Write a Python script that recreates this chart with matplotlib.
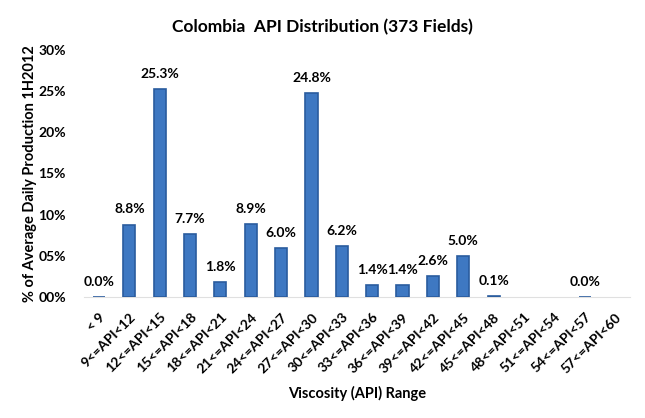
import numpy as np
import matplotlib
matplotlib.use("Agg")
import matplotlib.pyplot as plt

categories = ["< 9", "9<=API<12", "12<=API<15", "15<=API<18", "18<=API<21",
              "21<=API<24", "24<=API<27", "27<=API<30", "30<=API<33", "33<=API<36",
              "36<=API<39", "39<=API<42", "42<=API<45", "45<=API<48", "48<=API<51",
              "51<=API<54", "54<=API<57", "57<=API<60"]
values = [0.0, 8.8, 25.3, 7.7, 1.8, 8.9, 6.0, 24.8, 6.2, 1.4, 1.4, 2.6, 5.0, 0.1,
          np.nan, np.nan, 0.0, np.nan]
yticks = [0, 5, 10, 15, 20, 25, 30]
ytick_labels = ["00%", "05%", "10%", "15%", "20%", "25%", "30%"]

plt.rcParams['font.family'] = ['Lato', 'DejaVu Sans']

fig = plt.figure(figsize=(6.45, 4.18), dpi=100)
ax = fig.add_axes([0.130, 0.2895, 0.847, 0.591])

x = np.arange(len(categories))
vals = np.array(values, dtype=float)
mask = ~np.isnan(vals)
ax.bar(x[mask], vals[mask], width=0.4, color='#3E78C2', edgecolor='#2A5C9E',
       linewidth=1.2, zorder=3)

for xi, v in zip(x[mask], vals[mask]):
    ax.text(xi, v + 1.1, f"{v:.1f}%", ha='center', va='bottom',
            fontsize=10, fontweight='bold', color='black')

ax.set_xlim(-0.5, len(categories) - 0.5)
ax.set_ylim(0, 30)
ax.set_yticks(yticks)
ax.set_yticklabels(ytick_labels, fontsize=10, fontweight='bold')
ax.set_xticks(x)
ax.set_xticklabels(categories, rotation=45, ha='right', rotation_mode='anchor',
                   fontsize=10, fontweight='bold')
ax.tick_params(axis='both', length=0)
ax.tick_params(axis='x', pad=10)
ax.tick_params(axis='y', pad=13)

for s in ['top', 'right', 'left']:
    ax.spines[s].set_visible(False)
ax.spines['bottom'].set_color('#E0E0E0')
ax.spines['bottom'].set_linewidth(0.8)

ax.set_ylabel("% of Average Daily Production 1H2012", fontsize=10.5,
              fontweight='bold', labelpad=1)
ax.set_xlabel("Viscosity (API) Range", fontsize=10.5, fontweight='bold', labelpad=8)
fig.suptitle("Colombia  API Distribution (373 Fields)", fontsize=12.5,
             fontweight='bold', y=0.955, x=0.50)

fig.savefig("out.png", dpi=100)
